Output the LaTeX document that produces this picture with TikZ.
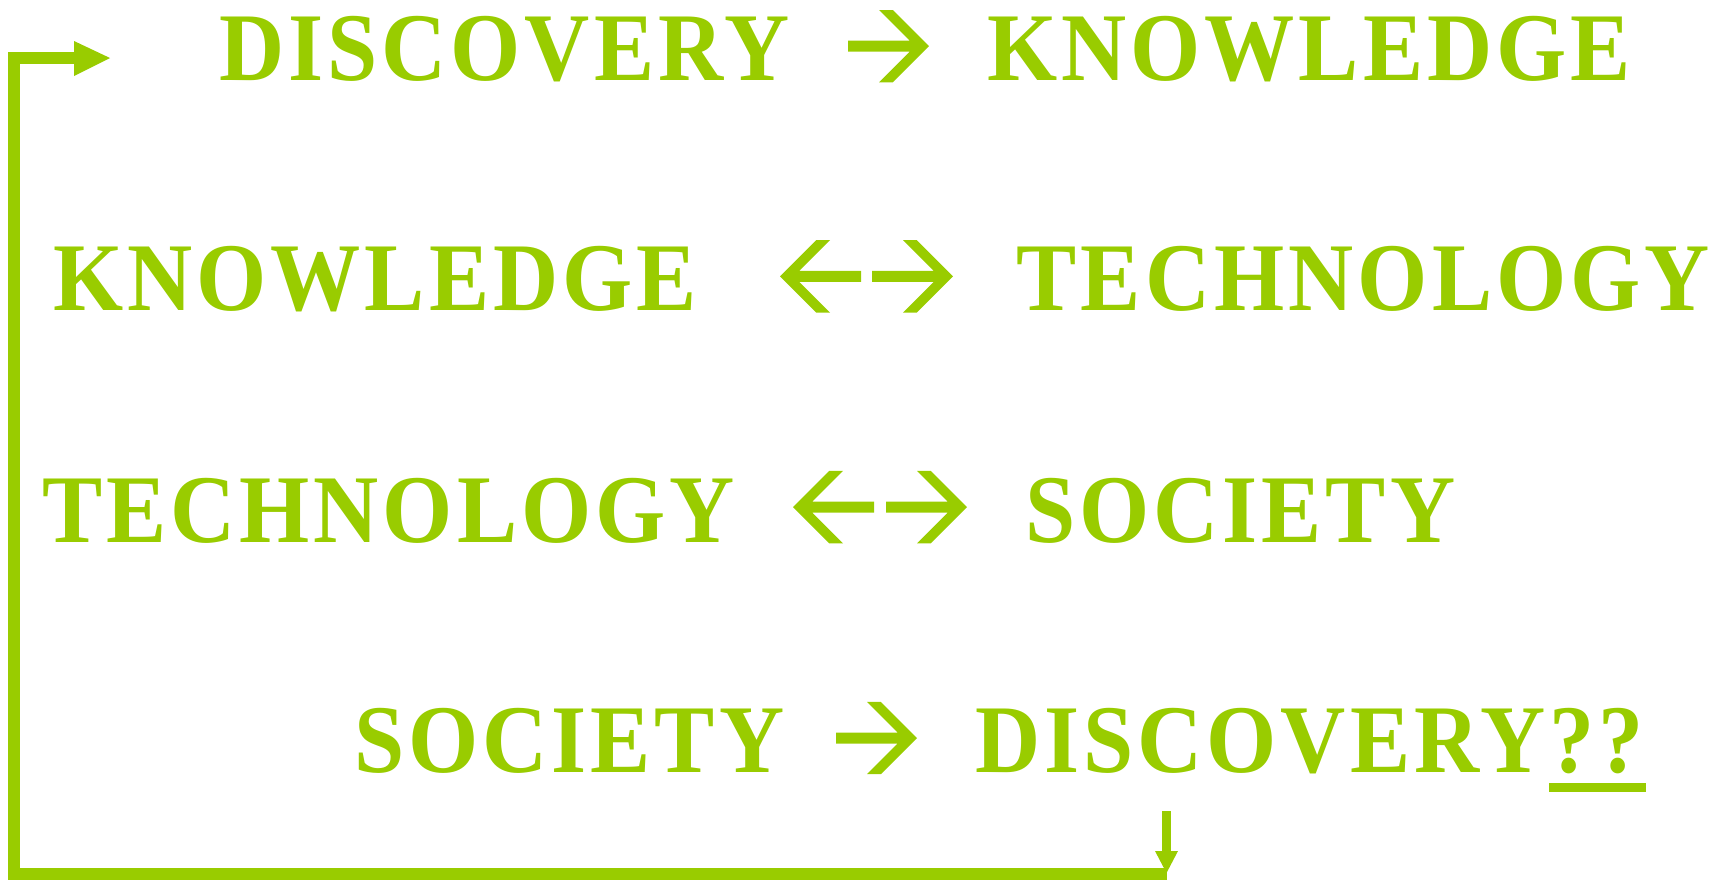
\documentclass[tikz,border=0pt]{standalone}
\usepackage{graphicx}
\usepackage{fontspec}
\newfontfamily\wordfont{Liberation Serif}[LetterSpace=4.5]
\definecolor{lime}{RGB}{153,204,0}
% condensed, slightly tracked bold caps used for every word
\newcommand\capsword[1]{\scalebox{0.93}[1]{#1}}
\tikzset{
  word/.style={anchor=base west, inner sep=0pt, outer sep=0pt, text=lime,
    font=\wordfont\bfseries\fontsize{97}{100}\selectfont},
  wordR/.style={word, anchor=base east},
  % arrow glyph pointing right, origin at its tip
  rglyph/.pic={\fill[lime] (-81,-5.5) -- (-19.3,-5.5) -- (-50,-36.2) -- (-36.2,-36.2)
      -- (0,0) -- (-36.2,36.2) -- (-50,36.2) -- (-19.3,5.5) -- (-81,5.5) -- cycle;},
  % arrow glyph pointing left, origin at its tip
  lglyph/.pic={\fill[lime] (81,-5.5) -- (19.3,-5.5) -- (50,-36.2) -- (36.2,-36.2)
      -- (0,0) -- (36.2,36.2) -- (50,36.2) -- (19.3,5.5) -- (81,5.5) -- cycle;},
  loopline/.style={draw=lime, line width=12pt, line join=miter, line cap=butt},
}
\begin{document}
\begin{tikzpicture}[x=1pt,y=-1pt]
\useasboundingbox (0,0) rectangle (1714,884);

% row 1
\node[word] (d1) at (219,80.7) {\capsword{DISCOVERY}};
\node[word] (k1) at (987,80.7) {\capsword{KNOWLEDGE}};
\pic (a1) at (929,46.2) {rglyph};

% row 2
\node[word]  (k2) at (53,310.7) {\capsword{KNOWLEDGE}};
\node[wordR] (t2) at (1710,310.7) {\capsword{TECHNOLOGY}};
\pic (a2l) at (780,276.4) {lglyph};
\pic (a2r) at (953,276.4) {rglyph};

% row 3
\node[word] (t3) at (42,542) {\capsword{TECHNOLOGY}};
\node[word] (s3) at (1025,542) {\capsword{SOCIETY}};
\pic (a3l) at (793,507.1) {lglyph};
\pic (a3r) at (967,507.1) {rglyph};

% row 4
\node[word] (s4) at (354,772.7) {\capsword{SOCIETY}};
\node[word] (d4) at (975,772.7) {\capsword{DISCOVERY??}};
\pic (a4) at (917,738) {rglyph};
\fill[lime] (1549,783) rectangle (1646,792);

% feedback loop back to the start
\coordinate (drop) at (1166.5,811);
\coordinate (dropend) at (1166.5,852);
\coordinate (loopR) at (1167,874);
\coordinate (loopBL) at (14,874);
\coordinate (loopTL) at (14,58);
\coordinate (loopT) at (74,58);
\draw[loopline] (loopR) -- (loopBL) -- (loopTL) -- (loopT);
\fill[lime] (74,41) -- (110,58) -- (74,76) -- cycle;
\draw[draw=lime, line width=8.5pt] (drop) -- (dropend);
\fill[lime] (1155,851) -- (1178,851) -- (1166.5,873) -- cycle;
\end{tikzpicture}
\end{document}
